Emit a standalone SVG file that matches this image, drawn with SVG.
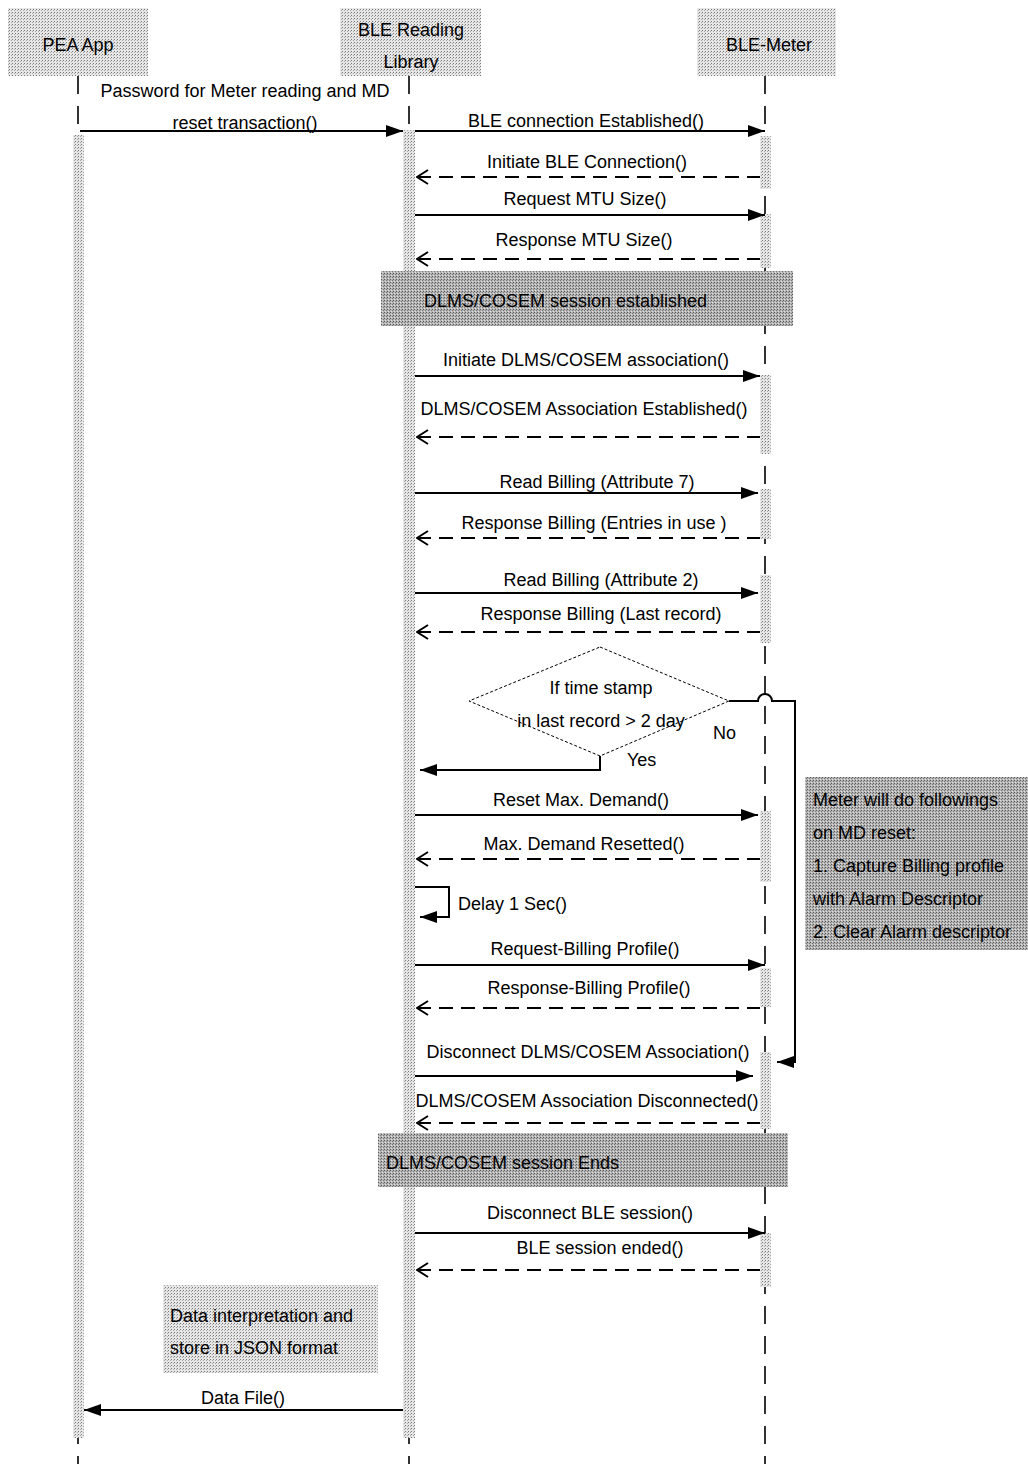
<svg xmlns="http://www.w3.org/2000/svg" width="1028" height="1464" viewBox="0 0 1028 1464">
<defs>
<pattern id="dots" width="3" height="3" patternUnits="userSpaceOnUse">
<rect width="3" height="3" fill="#e6e6e6"/>
<rect width="1" height="1" fill="#7a7a7a"/>
<rect x="2" y="1" width="1" height="1" fill="#a8a8a8"/>
</pattern>
<pattern id="dark" width="3" height="3" patternUnits="userSpaceOnUse">
<rect width="3" height="3" fill="#b4b4b4"/>
<rect width="1" height="1" fill="#5a5a5a"/>
<rect x="2" y="1" width="1" height="1" fill="#7a7a7a"/>
<rect x="1" y="2" width="1" height="1" fill="#e0e0e0"/>
</pattern>
<marker id="solid" markerWidth="18" markerHeight="14" refX="17" refY="7" orient="auto" markerUnits="userSpaceOnUse">
<path d="M0,1 L17,7 L0,13 Z" fill="#000"/>
</marker>
<marker id="open" markerWidth="14" markerHeight="16" refX="1" refY="8" orient="auto" markerUnits="userSpaceOnUse">
<path d="M12,1 L1,8 L12,15" fill="none" stroke="#000" stroke-width="2"/>
</marker>
</defs>
<style>
text{font-family:"Liberation Sans",Arial,sans-serif;font-size:18px;fill:#000}
.mid{text-anchor:middle}
.life{stroke:#000;stroke-width:1.6;stroke-dasharray:18 12;fill:none}
.act{fill:url(#dots);stroke:none}
.hdr{fill:url(#dots)}
.band{fill:url(#dark)}
.msg{stroke:#000;stroke-width:2;fill:none;marker-end:url(#solid)}
.ret{stroke:#000;stroke-width:2;fill:none;stroke-dasharray:14 8;marker-start:url(#open)}
</style>
<rect width="1028" height="1464" fill="#fff"/>

<g id="lifelines">
<line class="life" x1="78" y1="76" x2="78" y2="1464"/>
<line class="life" x1="409" y1="76" x2="409" y2="1464"/>
<line class="life" x1="765" y1="76" x2="765" y2="1464"/>
</g>

<g id="pea-app">
<rect class="hdr" x="8" y="8" width="140" height="68"/>
<text class="mid" x="78" y="51">PEA App</text>
<rect class="act" x="73" y="135" width="11" height="1303"/>
</g>

<g id="ble-library">
<rect class="hdr" x="340" y="8" width="141" height="68"/>
<text class="mid" x="411" y="36">BLE Reading</text>
<text class="mid" x="411" y="68">Library</text>
<rect class="act" x="403" y="130" width="12" height="1308"/>
</g>

<g id="ble-meter">
<rect class="hdr" x="697" y="8" width="139" height="68"/>
<text class="mid" x="769" y="51">BLE-Meter</text>
<rect class="act" x="760" y="136" width="11" height="53"/>
<rect class="act" x="760" y="214" width="11" height="54"/>
<rect class="act" x="760" y="375" width="11" height="79"/>
<rect class="act" x="760" y="489" width="11" height="50"/>
<rect class="act" x="760" y="575" width="11" height="68"/>
<rect class="act" x="760" y="811" width="11" height="71"/>
<rect class="act" x="760" y="968" width="11" height="39"/>
<rect class="act" x="760" y="1052" width="11" height="77"/>
<rect class="act" x="760" y="1233" width="11" height="54"/>
</g>

<g id="session-established">
<rect class="band" x="381" y="271" width="412" height="55"/>
<text x="424" y="307">DLMS/COSEM session established</text>
</g>

<g id="session-ends">
<rect class="band" x="378" y="1133" width="410" height="54"/>
<text x="386" y="1169">DLMS/COSEM session Ends</text>
</g>

<g id="decision">
<path d="M600,647 L729,701 L600,756 L469,701 Z" fill="#fff" stroke="#000" stroke-width="1" stroke-dasharray="3 2"/>
<text class="mid" x="601" y="694">If time stamp</text>
<text class="mid" x="601" y="727">in last record &gt; 2 day</text>
</g>

<g id="md-reset-note">
<rect class="band" x="805" y="777" width="223" height="173"/>
<text x="813" y="806">Meter will do followings</text>
<text x="813" y="839">on MD reset:</text>
<text x="813" y="872">1. Capture Billing profile</text>
<text x="813" y="905">with Alarm Descriptor</text>
<text x="813" y="938">2. Clear Alarm descriptor</text>
</g>

<g id="json-note">
<rect class="hdr" x="163" y="1285" width="215" height="88"/>
<text x="170" y="1322">Data interpretation and</text>
<text x="170" y="1354">store in JSON format</text>
</g>

<g id="connectors">
<line class="msg" x1="80" y1="131" x2="403" y2="131"/>
<text class="mid" x="245" y="97">Password for Meter reading and MD</text>
<text class="mid" x="245" y="129">reset transaction()</text>

<line class="msg" x1="415" y1="131" x2="765" y2="131"/>
<text class="mid" x="586" y="127">BLE connection Established()</text>

<line class="ret" x1="417" y1="177" x2="760" y2="177"/>
<text class="mid" x="587" y="168">Initiate BLE Connection()</text>

<line class="msg" x1="415" y1="215" x2="765" y2="215"/>
<text class="mid" x="585" y="205">Request MTU Size()</text>

<line class="ret" x1="417" y1="259" x2="760" y2="259"/>
<text class="mid" x="584" y="246">Response MTU Size()</text>

<line class="msg" x1="415" y1="376" x2="760" y2="376"/>
<text class="mid" x="586" y="366">Initiate DLMS/COSEM association()</text>

<line class="ret" x1="417" y1="437" x2="760" y2="437"/>
<text class="mid" x="584" y="415">DLMS/COSEM Association Established()</text>

<line class="msg" x1="415" y1="493" x2="758" y2="493"/>
<text class="mid" x="597" y="488">Read Billing (Attribute 7)</text>

<line class="ret" x1="417" y1="538" x2="760" y2="538"/>
<text class="mid" x="594" y="529">Response Billing (Entries in use )</text>

<line class="msg" x1="415" y1="593" x2="758" y2="593"/>
<text class="mid" x="601" y="586">Read Billing (Attribute 2)</text>

<line class="ret" x1="417" y1="632" x2="760" y2="632"/>
<text class="mid" x="601" y="620">Response Billing (Last record)</text>

<polyline class="msg" points="600,756 600,770 420,770"/>
<text x="627" y="766">Yes</text>

<path class="msg" d="M729,701 L758,701 A7,7 0 0 1 772,701 L795,701 L795,1062 L777,1062"/>
<text x="713" y="739">No</text>

<line class="msg" x1="415" y1="815" x2="758" y2="815"/>
<text class="mid" x="581" y="806">Reset Max. Demand()</text>

<line class="ret" x1="417" y1="859" x2="760" y2="859"/>
<text class="mid" x="584" y="850">Max. Demand Resetted()</text>

<polyline class="msg" points="415,887 449,887 449,917 420,917"/>
<text x="458" y="910">Delay 1 Sec()</text>

<line class="msg" x1="415" y1="965" x2="765" y2="965"/>
<text class="mid" x="585" y="955">Request-Billing Profile()</text>

<line class="ret" x1="417" y1="1008" x2="760" y2="1008"/>
<text class="mid" x="589" y="994">Response-Billing Profile()</text>

<line class="msg" x1="415" y1="1076" x2="753" y2="1076"/>
<text class="mid" x="588" y="1058">Disconnect DLMS/COSEM Association()</text>

<line class="ret" x1="417" y1="1123" x2="760" y2="1123"/>
<text class="mid" x="587" y="1107">DLMS/COSEM Association Disconnected()</text>

<line class="msg" x1="415" y1="1233" x2="765" y2="1233"/>
<text class="mid" x="590" y="1219">Disconnect BLE session()</text>

<line class="ret" x1="417" y1="1270" x2="760" y2="1270"/>
<text class="mid" x="600" y="1254">BLE session ended()</text>

<line class="msg" x1="403" y1="1410" x2="84" y2="1410"/>
<text class="mid" x="243" y="1404">Data File()</text>
</g>
</svg>
